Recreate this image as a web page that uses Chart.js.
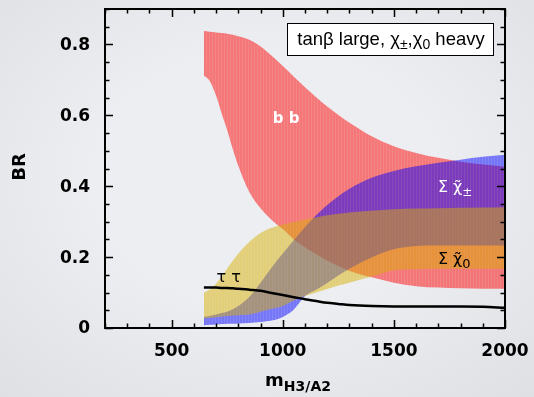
<!DOCTYPE html>
<html>
<head>
<meta charset="utf-8">
<script src="https://cdn.jsdelivr.net/npm/chart.js@4.4.1/dist/chart.umd.min.js"></script>
<style>
  html, body { margin: 0; padding: 0; width: 534px; height: 397px; overflow: hidden;
    background: radial-gradient(ellipse 80% 80% at 50% 45%, #eceef1 40%, #dcdee2 100%); }
  canvas { display: block; }
</style>
</head>
<body>
<canvas id="c" width="534" height="397"></canvas>
<script>
// Heavy Higgs mass grid (GeV)
const masses    = [645, 670, 700, 725, 750, 775, 800, 850, 900, 950, 1000, 1050, 1100, 1150, 1200, 1250, 1300, 1400, 1500, 1600, 1700, 1800, 1900, 2000];
// b b branching-ratio band
const bbHigh    = [0.838, 0.836, 0.834, 0.832, 0.830, 0.827, 0.823, 0.813, 0.794, 0.768, 0.739, 0.709, 0.679, 0.651, 0.625, 0.601, 0.579, 0.541, 0.513, 0.494, 0.480, 0.469, 0.461, 0.455];
const bbLow     = [0.712, 0.698, 0.655, 0.605, 0.558, 0.505, 0.457, 0.383, 0.338, 0.305, 0.279, 0.250, 0.228, 0.208, 0.190, 0.175, 0.161, 0.143, 0.128, 0.118, 0.114, 0.112, 0.111, 0.111];
// sum over chargino pairs
const chiPmHigh = [0.031, 0.034, 0.038, 0.042, 0.046, 0.053, 0.062, 0.088, 0.128, 0.171, 0.210, 0.248, 0.285, 0.318, 0.347, 0.372, 0.393, 0.424, 0.443, 0.456, 0.466, 0.475, 0.483, 0.489];
const chiPmLow  = [0.008, 0.009, 0.010, 0.011, 0.012, 0.012, 0.013, 0.014, 0.017, 0.021, 0.031, 0.052, 0.090, 0.108, 0.127, 0.148, 0.167, 0.199, 0.222, 0.231, 0.233, 0.233, 0.233, 0.233];
// sum over neutralino pairs
const chi0High  = [0.100, 0.108, 0.125, 0.145, 0.168, 0.190, 0.210, 0.243, 0.268, 0.283, 0.292, 0.299, 0.306, 0.312, 0.318, 0.322, 0.326, 0.331, 0.335, 0.337, 0.338, 0.339, 0.340, 0.341];
const chi0Low   = [0.027, 0.028, 0.030, 0.032, 0.034, 0.035, 0.036, 0.038, 0.046, 0.054, 0.062, 0.078, 0.090, 0.100, 0.110, 0.120, 0.128, 0.145, 0.163, 0.166, 0.167, 0.167, 0.167, 0.167];
// tau tau
const tautau    = [0.114, 0.114, 0.114, 0.113, 0.113, 0.112, 0.111, 0.108, 0.105, 0.099, 0.093, 0.087, 0.081, 0.076, 0.071, 0.068, 0.065, 0.062, 0.061, 0.061, 0.061, 0.061, 0.060, 0.057];

const xTicks = [500, 1000, 1500, 2000];
const yTicks = [0, 0.2, 0.4, 0.6, 0.8];

const canvas = document.getElementById('c');
const mainCtx = canvas.getContext('2d');

// translucent fill with faint vertical striping
function stripes(r, g, b, a) {
  const c = document.createElement('canvas');
  c.width = 3; c.height = 1;
  const x = c.getContext('2d');
  x.fillStyle = `rgba(${r},${g},${b},${a})`;
  x.fillRect(0, 0, 2, 1);
  x.fillStyle = `rgba(${r},${g},${b},${a * 0.88})`;
  x.fillRect(2, 0, 1, 1);
  return mainCtx.createPattern(c, 'repeat');
}
const redFill = stripes(255, 0, 0, 0.5);
const blueFill = stripes(0, 0, 255, 0.5);
const yellowFill = stripes(215, 175, 0, 0.5);

const pts = arr => masses.map((m, i) => ({ x: m, y: arr[i] }));
const band = (arr, color, fill) => ({
  data: pts(arr), fill, backgroundColor: color, borderColor: 'rgba(0,0,0,0)',
  borderWidth: 0, pointRadius: 0, cubicInterpolationMode: 'monotone'
});

function drawRich(ctx, parts, x, y, align) {
  let total = 0;
  parts.forEach(p => { ctx.font = p.font; total += ctx.measureText(p.t).width; });
  let cx = align === 'center' ? x - total / 2 : x;
  ctx.textAlign = 'left';
  ctx.textBaseline = 'alphabetic';
  parts.forEach(p => {
    ctx.font = p.font;
    ctx.fillStyle = p.color || ctx.fillStyle;
    ctx.fillText(p.t, cx, y + (p.dy || 0));
    cx += ctx.measureText(p.t).width;
  });
}

const decorations = {
  id: 'decorations',
  afterDatasetsDraw(chart) {
    const { ctx, chartArea: a, scales: { x, y } } = chart;
    ctx.save();
    ctx.strokeStyle = '#000';
    ctx.lineWidth = 1.5;
    ctx.beginPath();
    // x ticks, bottom and top, pointing inward
    for (let v = 200; v <= 2000; v += 100) {
      const px = Math.round(x.getPixelForValue(v)) + 0.5;
      const len = v % 500 === 0 ? 8 : 4.5;
      ctx.moveTo(px, a.bottom); ctx.lineTo(px, a.bottom - len);
      ctx.moveTo(px, a.top); ctx.lineTo(px, a.top + len);
    }
    // y ticks, left and right, pointing inward
    for (let k = 0; k <= 18; k++) {
      const v = k * 0.05;
      const py = Math.round(y.getPixelForValue(v)) + 0.5;
      const len = k % 4 === 0 ? 8 : 4.5;
      ctx.moveTo(a.left, py); ctx.lineTo(a.left + len, py);
      ctx.moveTo(a.right, py); ctx.lineTo(a.right - len, py);
    }
    ctx.stroke();
    ctx.lineWidth = 2;
    ctx.strokeRect(a.left, a.top, a.right - a.left, a.bottom - a.top);

    // band labels
    const sym = 'DejaVu Sans';
    ctx.fillStyle = '#fff';
    ctx.font = `bold 15px "${sym}"`;
    ctx.textAlign = 'center'; ctx.textBaseline = 'middle';
    ctx.fillText('b b', x.getPixelForValue(1015), y.getPixelForValue(0.59));

    drawRich(ctx, [
      { t: 'Σ χ\u0303', font: `16px "${sym}"`, color: '#fff' },
      { t: '±', font: `12px "${sym}"`, dy: 4, color: '#fff' }
    ], x.getPixelForValue(1698), y.getPixelForValue(0.385));

    drawRich(ctx, [
      { t: 'Σ χ\u0303', font: `16px "${sym}"`, color: '#000' },
      { t: '0', font: `13px "${sym}"`, dy: 4, color: '#000' }
    ], x.getPixelForValue(1698), y.getPixelForValue(0.18));

    drawRich(ctx, [{ t: 'τ τ', font: `16px "${sym}"`, color: '#000' }],
      x.getPixelForValue(702), y.getPixelForValue(0.13));

    // scenario box
    const bx = a.left + 182, by = a.top + 14, bw = 206, bh = 32;
    ctx.fillStyle = '#fff';
    ctx.fillRect(bx, by, bw, bh);
    ctx.lineWidth = 1;
    ctx.strokeStyle = '#000';
    ctx.strokeRect(bx + 0.5, by + 0.5, bw, bh);
    const lf = '"Liberation Sans"';
    drawRich(ctx, [
      { t: 'tanβ large, χ', font: `18.5px ${lf}`, color: '#000' },
      { t: '±', font: `14px ${lf}`, dy: 4 },
      { t: ',χ', font: `18.5px ${lf}` },
      { t: '0', font: `14px ${lf}`, dy: 4 },
      { t: ' heavy', font: `18.5px ${lf}` }
    ], bx + bw / 2 + 1, by + 22, 'center');

    // axis titles
    ctx.fillStyle = '#000';
    ctx.save();
    ctx.translate(25, 167);
    ctx.rotate(-Math.PI / 2);
    ctx.font = `bold 18px "${sym}"`;
    ctx.textAlign = 'center'; ctx.textBaseline = 'alphabetic';
    ctx.fillText('BR', 0, 0);
    ctx.restore();
    drawRich(ctx, [
      { t: 'm', font: `bold 18px "${sym}"`, color: '#000' },
      { t: 'H3/A2', font: `bold 14px "${sym}"`, dy: 5 }
    ], 298, 386, 'center');
    ctx.restore();
  }
};

new Chart(canvas, {
  type: 'line',
  data: {
    datasets: [
      { data: pts(tautau), borderColor: '#000', borderWidth: 2.5, pointRadius: 0, fill: false, cubicInterpolationMode: 'monotone' },
      band(chi0High, yellowFill, '+1'),
      band(chi0Low, yellowFill, false),
      band(chiPmHigh, blueFill, '+1'),
      band(chiPmLow, blueFill, false),
      band(bbHigh, redFill, '+1'),
      band(bbLow, redFill, false)
    ]
  },
  options: {
    responsive: false,
    devicePixelRatio: 1,
    animation: false,
    layout: { padding: { top: 9, right: 29, left: 0, bottom: 0 } },
    plugins: { legend: { display: false }, tooltip: { enabled: false } },
    scales: {
      x: {
        type: 'linear', min: 200, max: 2000,
        afterBuildTicks: s => { s.ticks = xTicks.map(v => ({ value: v })); },
        afterFit: s => { s.height = 69; s.paddingLeft = 0; s.paddingRight = 0; },
        grid: { display: false, drawTicks: false },
        border: { display: false },
        ticks: { color: '#000', padding: 13, maxRotation: 0, autoSkip: false,
                 font: { family: 'DejaVu Sans', weight: 'bold', size: 17 },
                 callback: v => String(v) }
      },
      y: {
        type: 'linear', min: 0, max: 0.9,
        afterBuildTicks: s => { s.ticks = yTicks.map(v => ({ value: v })); },
        afterFit: s => { s.width = 105; s.paddingTop = 0; s.paddingBottom = 0; },
        grid: { display: false, drawTicks: false },
        border: { display: false },
        ticks: { color: '#000', padding: 15, labelOffset: 1,
                 font: { family: 'DejaVu Sans', weight: 'bold', size: 17 },
                 callback: v => v === 0 ? '0' : v.toFixed(1) }
      }
    }
  },
  plugins: [decorations]
});
</script>
</body>
</html>
